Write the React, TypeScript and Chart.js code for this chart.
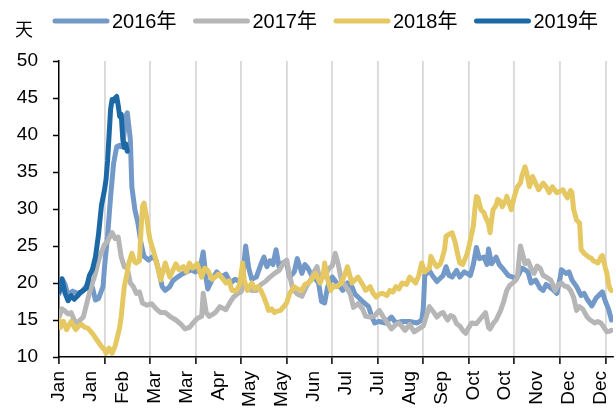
import React, { useEffect, useRef } from "react";
import { Chart, registerables } from "chart.js";

Chart.register(...registerables);

// ---- Data ----
const xLabels = ["Jan", "Jan", "Feb", "Mar", "Mar", "Apr", "May", "May", "Jun", "Jul", "Jul", "Aug", "Sep", "Oct", "Oct", "Nov", "Dec", "Dec"];
const labelStepDays = 21;
const gridStepDays = 30;
const yTicks = [10, 15, 20, 25, 30, 35, 40, 45, 50];
const unitLabel = "天";
const seriesNames = ["2016年", "2017年", "2018年", "2019年"];
const seriesColors = ["#7399C9", "#B6B6B6", "#E6C862", "#1C69A6"];

const days2016 = [0, 2, 4, 6, 9, 12, 15, 18, 20, 22, 24, 26, 29, 30, 32, 34, 36, 38, 40, 42, 44, 45, 47, 48, 50, 52, 54, 56, 59, 62, 64, 66, 68, 70, 73, 75, 78, 81, 84, 87, 90, 93, 95, 97, 98, 101, 104, 107, 110, 113, 116, 119, 121, 123, 125, 127, 130, 133, 135, 137, 139, 141, 143, 145, 148, 150, 152, 155, 157, 160, 162, 164, 166, 168, 171, 173, 175, 177, 180, 183, 185, 187, 190, 193, 195, 197, 200, 204, 206, 208, 211, 215, 219, 222, 226, 231, 236, 239, 240, 241, 244, 246, 249, 251, 253, 255, 257, 259, 262, 264, 267, 269, 271, 273, 275, 277, 280, 282, 283, 285, 288, 290, 293, 296, 299, 301, 303, 305, 307, 309, 311, 314, 317, 319, 321, 323, 326, 328, 330, 331, 334, 336, 338, 341, 344, 346, 348, 351, 354, 356, 358, 360, 362, 364];
const vals2016 = [18.5, 20.6, 19.8, 18.4, 18.9, 18.6, 18.8, 19.6, 20.2, 19.4, 17.7, 17.9, 19.5, 22.2, 26.3, 31.7, 36.2, 38.4, 38.6, 38.4, 42.5, 43.0, 39.4, 33.0, 29.9, 28.1, 25.4, 23.6, 23.1, 23.6, 23.0, 21.4, 19.5, 19.0, 19.5, 20.3, 20.8, 21.2, 21.5, 21.8, 21.5, 22.0, 24.2, 20.5, 19.2, 20.5, 21.5, 20.8, 21.2, 20.0, 20.5, 20.2, 21.0, 25.0, 22.0, 20.5, 20.8, 22.5, 23.5, 22.2, 23.0, 22.5, 24.5, 22.2, 22.8, 22.6, 20.8, 21.5, 23.3, 21.3, 22.5, 22.0, 21.2, 20.8, 20.0, 17.5, 17.3, 19.5, 20.8, 20.0, 19.5, 19.0, 20.0, 19.5, 18.5, 18.1, 17.5, 16.8, 15.5, 14.6, 14.8, 14.6, 15.4, 14.6, 14.8, 14.8, 14.6, 15.0, 16.5, 21.0, 21.7, 21.0, 20.2, 20.6, 21.0, 22.2, 21.0, 20.8, 21.7, 20.8, 21.5, 21.3, 21.0, 22.5, 24.8, 23.3, 23.5, 22.5, 24.6, 22.6, 23.5, 22.5, 21.8, 21.0, 20.8, 20.5, 21.2, 22.0, 21.8, 21.5, 20.0, 20.4, 19.3, 19.0, 19.8, 19.5, 19.0, 18.6, 20.5, 21.8, 21.3, 21.5, 20.4, 19.5, 18.3, 18.6, 17.8, 16.9, 18.0, 18.4, 18.8, 17.5, 16.5, 15.0];

const days2017 = [0, 2, 4, 6, 8, 10, 12, 14, 16, 18, 20, 22, 24, 26, 28, 30, 32, 34, 35, 37, 39, 41, 43, 45, 47, 49, 51, 53, 55, 58, 61, 64, 67, 70, 73, 77, 80, 83, 86, 88, 91, 94, 95, 97, 99, 103, 106, 110, 113, 115, 118, 120, 122, 124, 127, 130, 133, 136, 139, 142, 145, 148, 150, 152, 154, 157, 160, 163, 166, 168, 170, 172, 175, 178, 180, 182, 184, 186, 189, 192, 194, 197, 200, 202, 205, 208, 211, 215, 219, 222, 224, 228, 231, 234, 237, 240, 242, 244, 247, 249, 251, 253, 256, 258, 260, 262, 264, 266, 268, 270, 272, 275, 277, 279, 281, 283, 284, 286, 288, 291, 293, 295, 297, 299, 301, 302, 304, 306, 307, 309, 311, 313, 315, 317, 319, 321, 324, 327, 329, 331, 333, 335, 337, 339, 341, 343, 345, 348, 350, 353, 355, 357, 359, 361, 363, 364];
const vals2017 = [15.4, 16.5, 16.2, 15.8, 16.0, 15.0, 14.6, 15.0, 15.4, 17.0, 18.6, 20.0, 21.3, 23.0, 24.2, 25.2, 25.6, 26.5, 26.8, 26.0, 26.2, 23.5, 22.2, 22.0, 20.0, 19.5, 18.6, 18.8, 17.3, 17.0, 17.2, 16.5, 16.0, 16.0, 15.5, 15.0, 14.5, 13.8, 14.0, 14.5, 15.2, 15.5, 18.6, 16.0, 15.5, 16.0, 16.8, 16.4, 17.5, 18.1, 18.6, 18.8, 20.0, 19.3, 19.0, 19.0, 19.8, 20.2, 20.8, 21.3, 21.7, 22.7, 23.1, 21.0, 19.2, 18.5, 18.2, 19.5, 20.5, 21.5, 22.2, 20.4, 21.0, 22.0, 22.3, 24.0, 22.5, 20.4, 19.5, 18.5, 16.7, 17.2, 16.5, 15.5, 15.4, 15.6, 16.3, 15.0, 13.8, 14.4, 14.6, 13.6, 14.4, 13.4, 13.8, 14.2, 15.5, 16.8, 16.0, 15.4, 15.8, 16.0, 15.0, 15.6, 15.4, 14.5, 14.2, 13.6, 13.2, 14.0, 14.6, 14.5, 15.0, 15.5, 16.0, 14.0, 13.8, 14.5, 15.0, 16.3, 17.5, 19.0, 19.7, 20.0, 20.4, 20.8, 25.0, 23.5, 22.6, 23.0, 22.0, 21.3, 22.3, 22.0, 21.0, 20.8, 20.4, 19.0, 19.8, 20.0, 19.6, 19.5, 19.0, 18.1, 16.3, 16.8, 16.5, 15.4, 15.0, 14.6, 14.8, 14.6, 14.0, 13.4, 13.5, 13.6];

const days2018 = [0, 1, 3, 5, 8, 11, 13, 15, 17, 19, 22, 25, 28, 30, 31, 33, 34, 35, 37, 38, 40, 41, 42, 43, 45, 46, 48, 50, 51, 53, 54, 55, 56, 58, 59, 60, 62, 64, 65, 67, 70, 73, 77, 79, 82, 84, 86, 88, 91, 94, 96, 98, 101, 103, 105, 107, 110, 112, 114, 117, 119, 121, 122, 124, 127, 129, 131, 133, 135, 137, 138, 140, 142, 144, 146, 148, 150, 152, 155, 157, 160, 162, 164, 166, 169, 172, 174, 175, 177, 179, 181, 183, 186, 188, 190, 193, 195, 197, 200, 202, 205, 207, 209, 211, 213, 216, 218, 220, 222, 224, 226, 229, 231, 233, 235, 237, 239, 241, 242, 244, 245, 247, 249, 251, 252, 254, 255, 257, 259, 261, 262, 264, 266, 268, 269, 271, 273, 274, 275, 276, 278, 280, 281, 283, 284, 285, 286, 288, 289, 291, 292, 294, 295, 297, 298, 300, 302, 304, 305, 307, 308, 310, 312, 314, 316, 319, 321, 323, 325, 328, 330, 332, 334, 335, 337, 338, 339, 341, 343, 344, 346, 349, 351, 352, 354, 355, 357, 358, 360, 361, 362, 363, 364];
const vals2018 = [15.0, 14.0, 14.8, 13.7, 14.8, 13.7, 14.2, 14.4, 14.0, 13.9, 13.2, 12.3, 11.4, 11.0, 10.5, 11.2, 10.8, 10.5, 11.5, 12.3, 14.0, 15.5, 17.5, 19.5, 21.5, 22.7, 24.0, 22.8, 22.7, 23.0, 27.0, 30.3, 30.8, 28.6, 27.0, 25.8, 24.5, 23.0, 22.2, 20.4, 22.7, 20.8, 22.6, 21.8, 22.2, 21.5, 22.7, 22.0, 22.6, 20.8, 22.0, 21.7, 20.5, 20.8, 21.2, 20.8, 20.0, 20.3, 19.0, 19.0, 19.8, 22.7, 20.5, 19.0, 20.0, 19.2, 19.5, 19.0, 18.1, 17.0, 16.3, 16.5, 16.0, 16.2, 16.3, 16.8, 17.3, 18.6, 19.5, 19.2, 19.0, 19.8, 20.0, 20.3, 21.3, 20.0, 21.0, 22.7, 20.5, 19.0, 19.6, 19.5, 20.0, 21.0, 22.2, 20.0, 20.4, 20.8, 19.8, 19.0, 19.5, 18.6, 18.1, 18.5, 18.6, 18.3, 19.0, 18.8, 19.5, 19.2, 20.0, 19.8, 20.8, 20.4, 20.0, 21.0, 22.7, 21.5, 21.7, 22.0, 23.6, 22.8, 22.2, 22.5, 23.0, 24.5, 26.3, 26.6, 26.8, 25.5, 24.5, 22.7, 22.5, 23.5, 24.0, 25.8, 27.7, 30.0, 31.7, 31.5, 29.9, 29.5, 28.9, 28.0, 26.8, 28.5, 29.9, 30.5, 31.3, 31.0, 30.3, 31.0, 31.7, 30.5, 29.9, 31.7, 33.0, 33.5, 34.5, 35.7, 35.0, 33.0, 34.4, 33.5, 32.6, 33.5, 33.0, 32.2, 33.0, 32.2, 32.4, 32.6, 31.8, 31.5, 32.5, 32.2, 30.0, 28.5, 28.1, 24.5, 24.0, 23.5, 23.3, 23.0, 22.8, 22.7, 23.5, 23.7, 22.0, 21.3, 20.0, 19.2, 19.0];

const days2019 = [0, 2, 4, 6, 8, 10, 12, 14, 16, 18, 20, 22, 24, 26, 27, 28, 30, 31, 32, 33, 34, 35, 36, 37, 38, 39, 40, 41, 42, 43, 44, 45];
const vals2019 = [18.8, 20.5, 18.6, 17.6, 18.3, 17.8, 18.2, 18.7, 19.0, 19.3, 21.0, 21.8, 23.5, 26.5, 28.5, 30.5, 32.6, 34.0, 36.5, 40.0, 43.5, 44.8, 44.6, 45.0, 45.2, 44.0, 42.5, 42.8, 39.5, 38.3, 38.8, 37.8];

const seriesDays = [days2016, days2017, days2018, days2019];
const seriesVals = [vals2016, vals2017, vals2018, vals2019];

const FONT = "'Liberation Sans', Arial, 'Noto Sans CJK SC', sans-serif";

const overlayPlugin = {
  id: "overlay",
  afterDraw(chart: any) {
    const ctx = chart.ctx;
    ctx.save();
    ctx.fillStyle = "#000";
    ctx.font = `18px ${FONT}`;
    ctx.textAlign = "left";
    ctx.textBaseline = "middle";
    ctx.fillText(unitLabel, 15, 31);
    ctx.font = `20px ${FONT}`;
    let x = 53;
    const y = 21;
    seriesNames.forEach((name, i) => {
      ctx.strokeStyle = seriesColors[i];
      ctx.lineWidth = 5;
      ctx.lineCap = "round";
      ctx.beginPath();
      ctx.moveTo(x + 2, y);
      ctx.lineTo(x + 54, y);
      ctx.stroke();
      ctx.fillStyle = "#000";
      ctx.fillText(name, x + 59, y + 1);
      x += 59 + ctx.measureText(name).width + 17;
    });
    ctx.restore();
  },
};

export default function App() {
  const canvasRef = useRef<HTMLCanvasElement | null>(null);

  useEffect(() => {
    document.body.style.margin = "0";
    const canvas = canvasRef.current;
    if (!canvas) return;
    const datasets = seriesNames.map((name, i) => ({
      label: name,
      data: seriesDays[i].map((d, j) => ({ x: d, y: seriesVals[i][j] })),
      borderColor: seriesColors[i],
      backgroundColor: seriesColors[i],
      borderWidth: 5,
      pointRadius: 0,
      tension: 0,
      borderJoinStyle: "round" as const,
      borderCapStyle: "round" as const,
      order: 4 - i,
    }));

    const chart = new Chart(canvas, {
      type: "line",
      data: { datasets },
      options: {
        animation: false,
        responsive: false,
        maintainAspectRatio: false,
        layout: { padding: { top: 61, right: 3, left: 0, bottom: 0 } },
        plugins: {
          legend: { display: false },
          tooltip: { enabled: false },
        },
        scales: {
          x: {
            type: "linear",
            min: 0,
            max: 365,
            afterBuildTicks: (scale: any) => {
              const set = new Set<number>();
              xLabels.forEach((_, i) => set.add(i * labelStepDays));
              for (let v = 0; v <= 360; v += gridStepDays) set.add(v);
              scale.ticks = Array.from(set)
                .sort((a, b) => a - b)
                .map((v) => ({ value: v }));
            },
            afterFit: (scale: any) => {
              scale.height = 51;
              scale.paddingLeft = 0;
              scale.paddingRight = 0;
            },
            ticks: {
              autoSkip: false,
              minRotation: 90,
              maxRotation: 90,
              padding: 7,
              color: "#000",
              font: { family: FONT, size: 19 },
              callback: (value: any) => {
                const v = Number(value);
                return v % labelStepDays === 0 ? xLabels[v / labelStepDays] : "";
              },
            },
            grid: {
              display: true,
              drawOnChartArea: true,
              drawTicks: true,
              tickLength: 7,
              lineWidth: 1.8,
              color: (ctx: any) =>
                ctx.tick && ctx.tick.value % gridStepDays === 0 && ctx.tick.value !== 0 ? "#D9D9D9" : "rgba(0,0,0,0)",
              tickColor: (ctx: any) =>
                ctx.tick && ctx.tick.value % gridStepDays === 0 ? "#000" : "rgba(0,0,0,0)",
              tickWidth: 1.5,
            },
            border: { display: true, color: "#000", width: 1.5 },
          },
          y: {
            min: 10,
            max: 50,
            afterBuildTicks: (scale: any) => {
              scale.ticks = yTicks.map((v) => ({ value: v }));
            },
            afterFit: (scale: any) => {
              scale.width = 59;
              scale.paddingTop = 0;
              scale.paddingBottom = 0;
            },
            ticks: {
              padding: 15,
              color: "#000",
              font: { family: FONT, size: 19 },
            },
            grid: {
              display: true,
              drawOnChartArea: false,
              drawTicks: true,
              tickLength: 6,
              tickColor: "#000",
              tickWidth: 1.5,
            },
            border: { display: true, color: "#000", width: 1.5 },
          },
        },
      },
      plugins: [overlayPlugin],
    });
    return () => chart.destroy();
  }, []);

  return (
    <div style={{ position: "relative", width: 616, height: 408, background: "#fff" }}>
      <canvas ref={canvasRef} width={616} height={408} style={{ display: "block", width: 616, height: 408 }} />
    </div>
  );
}
